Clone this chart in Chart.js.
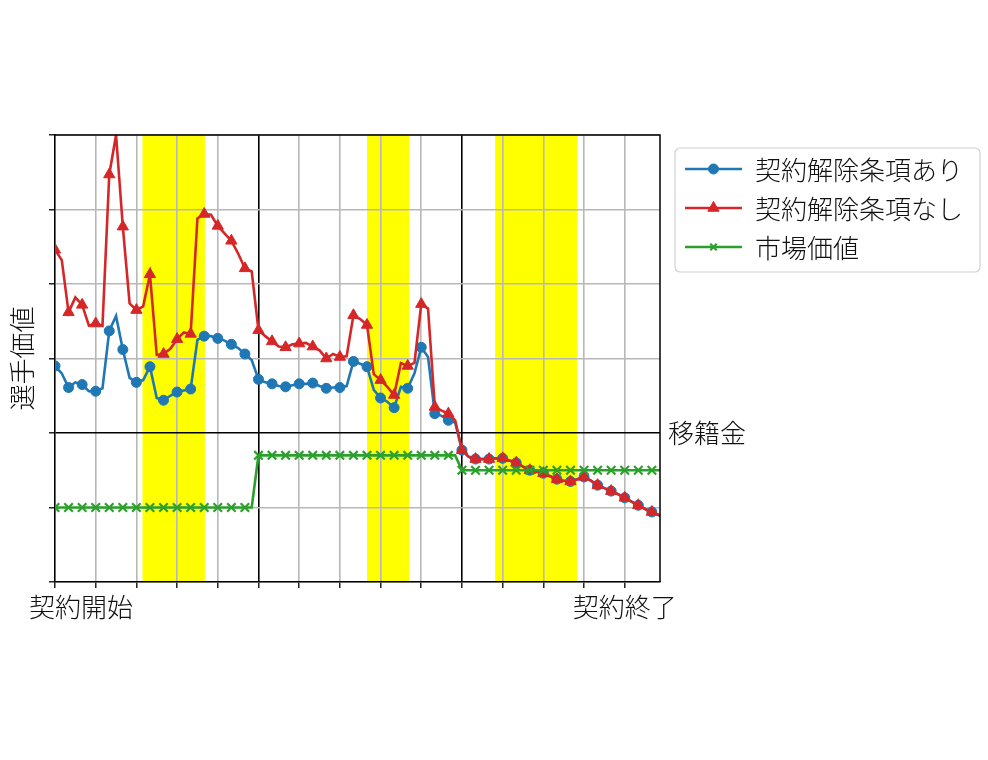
<!DOCTYPE html>
<html>
<head>
<meta charset="utf-8">
<script src="https://cdn.jsdelivr.net/npm/chart.js@4.4.1/dist/chart.umd.min.js"></script>
<style>
  html, body { margin: 0; padding: 0; background: #fff; }
  #wrap { width: 988px; height: 760px; }
</style>
</head>
<body>
<div id="wrap"><canvas id="chart" width="988" height="760"></canvas></div>
<script>
/* ── Data (x in contract steps, half-step resolution) ── */
const steps = [
  0, 0.5, 1, 1.5, 2, 2.5, 3, 3.5, 4, 4.5, 5, 5.5, 6, 6.5, 7, 7.5, 8, 8.5, 9, 9.5,
  10, 10.5, 11, 11.5, 12, 12.5, 13, 13.5, 14, 14.5, 15, 15.5, 16, 16.5, 17, 17.5, 18, 18.5, 19, 19.5,
  20, 20.5, 21, 21.5, 22, 22.5, 23, 23.5, 24, 24.5, 25, 25.5, 26, 26.5, 27, 27.5, 28, 28.5, 29, 29.5,
  30, 30.5, 31, 31.5, 32, 32.5, 33, 33.5, 34, 34.5, 35, 35.5, 36, 36.5, 37, 37.5, 38, 38.5, 39, 39.5,
  40, 40.5, 41, 41.5, 42, 42.5, 43, 43.5, 44, 44.5, 45
];

// 契約解除条項あり
const withClause = [
  2.90, 2.80, 2.61, 2.68, 2.65, 2.56, 2.56, 2.60, 3.37, 3.57, 3.12, 2.74, 2.68, 2.71, 2.89, 2.47, 2.44, 2.50, 2.55, 2.57,
  2.59, 3.25, 3.30, 3.30, 3.27, 3.24, 3.19, 3.14, 3.06, 2.98, 2.72, 2.68, 2.66, 2.63, 2.62, 2.64, 2.66, 2.66, 2.67, 2.63,
  2.60, 2.61, 2.61, 2.63, 2.96, 2.93, 2.89, 2.58, 2.47, 2.42, 2.34, 2.62, 2.60, 2.80, 3.15, 3.02, 2.26, 2.23, 2.17, 2.14,
  1.77, 1.68, 1.65, 1.65, 1.65, 1.66, 1.66, 1.63, 1.60, 1.55, 1.50, 1.48, 1.46, 1.42, 1.38, 1.36, 1.35, 1.38, 1.41, 1.36,
  1.30, 1.26, 1.22, 1.18, 1.13, 1.08, 1.03, 0.98, 0.94, 0.90, 0.85
];

// 契約解除条項なし
const withoutClause = [
  4.46, 4.32, 3.62, 3.82, 3.72, 3.44, 3.47, 3.44, 5.47, 6.00, 4.77, 3.74, 3.65, 3.70, 4.13, 3.05, 3.06, 3.13, 3.26, 3.35,
  3.33, 4.88, 4.94, 4.93, 4.78, 4.68, 4.58, 4.41, 4.21, 4.17, 3.38, 3.30, 3.23, 3.16, 3.15, 3.19, 3.20, 3.21, 3.16, 3.11,
  3.00, 3.06, 3.02, 3.03, 3.58, 3.53, 3.45, 2.79, 2.71, 2.62, 2.51, 2.94, 2.90, 2.94, 3.73, 3.67, 2.35, 2.30, 2.26, 2.17,
  1.77, 1.68, 1.65, 1.65, 1.65, 1.66, 1.66, 1.63, 1.60, 1.55, 1.50, 1.48, 1.46, 1.42, 1.38, 1.36, 1.35, 1.38, 1.41, 1.36,
  1.30, 1.26, 1.22, 1.18, 1.13, 1.08, 1.03, 0.98, 0.94, 0.90, 0.85
];

// 市場価値
const marketValue = [
  1.00, 1.00, 1.00, 1.00, 1.00, 1.00, 1.00, 1.00, 1.00, 1.00, 1.00, 1.00, 1.00, 1.00, 1.00, 1.00, 1.00, 1.00, 1.00, 1.00,
  1.00, 1.00, 1.00, 1.00, 1.00, 1.00, 1.00, 1.00, 1.00, 1.00, 1.70, 1.70, 1.70, 1.70, 1.70, 1.70, 1.70, 1.70, 1.70, 1.70,
  1.70, 1.70, 1.70, 1.70, 1.70, 1.70, 1.70, 1.70, 1.70, 1.70, 1.70, 1.70, 1.70, 1.70, 1.70, 1.70, 1.70, 1.70, 1.70, 1.70,
  1.50, 1.50, 1.50, 1.50, 1.50, 1.50, 1.50, 1.50, 1.50, 1.50, 1.50, 1.50, 1.50, 1.50, 1.50, 1.50, 1.50, 1.50, 1.50, 1.50,
  1.50, 1.50, 1.50, 1.50, 1.50, 1.50, 1.50, 1.50, 1.50, 1.50, 1.50
];

const seriesNames = ['契約解除条項あり', '契約解除条項なし', '市場価値'];

/* ── Axes: ticks, labels, highlighted periods ── */
const xGridTicks = [0, 3, 6, 9, 12, 15, 18, 21, 24, 27, 30, 33, 36, 39, 42];
const xBlackLines = [15, 30];
const xMax = 44.6;
const xTickLabelPos = [1.92, 42];
const xTickLabelText = ['契約開始', '契約終了'];
const yTicks = [0, 1, 2, 3, 4, 5, 6];
const transferFee = 2;
const transferFeeLabel = '移籍金';
const yTitle = '選手価値';
const bandStart = [6.45, 23.0, 32.45];
const bandEnd   = [11.05, 26.1, 38.5];

const FONT = '300 26px "Noto Sans CJK JP", "Noto Sans CJK SC", sans-serif';
const COLORS = ['#1f77b4', '#d62728', '#2ca02c'];
const STYLES = ['circle', 'triangle', 'crossRot'];
const RADII  = [5, 6.5, 6];
const MARK_BORDER = [1, 1, 2.2];

/* ── Marker only on whole steps ── */
const markOnWhole = r => ctx => (ctx.dataIndex % 2 === 0 ? r : 0);

/* ── Decorations plugin: background, bands, frame, texts, legend ── */
const decor = {
  id: 'decor',
  beforeDraw(chart) {
    const { ctx, chartArea: a, scales: { x } } = chart;
    ctx.save();
    ctx.fillStyle = '#ffffff';
    ctx.fillRect(0, 0, chart.width, chart.height);
    ctx.fillStyle = '#ffff00';
    for (let i = 0; i < bandStart.length; i++) {
      const x0 = x.getPixelForValue(bandStart[i]);
      const x1 = x.getPixelForValue(bandEnd[i]);
      ctx.fillRect(x0, a.top, x1 - x0, a.bottom - a.top);
    }
    ctx.restore();
  },
  afterDraw(chart) {
    const { ctx, chartArea: a, scales: { x, y } } = chart;
    ctx.save();
    // top + right spines
    ctx.strokeStyle = '#000';
    ctx.lineWidth = 1.5;
    ctx.beginPath();
    ctx.moveTo(a.left, a.top);
    ctx.lineTo(a.right, a.top);
    ctx.lineTo(a.right, a.bottom);
    ctx.stroke();

    ctx.fillStyle = '#111';
    ctx.font = FONT;
    ctx.textBaseline = 'middle';

    // x tick labels
    ctx.textAlign = 'center';
    xTickLabelPos.forEach((v, i) => {
      ctx.fillText(xTickLabelText[i], x.getPixelForValue(v), 607);
    });

    // transfer-fee label
    ctx.textAlign = 'left';
    ctx.fillText(transferFeeLabel, a.right + 8, y.getPixelForValue(transferFee));

    // y title
    ctx.save();
    ctx.translate(22, (a.top + a.bottom) / 2);
    ctx.rotate(-Math.PI / 2);
    ctx.textAlign = 'center';
    ctx.fillText(yTitle, 0, 0);
    ctx.restore();

    // legend
    const lx = 675, ly = 148, lw = 305, lh = 124, r = 5;
    ctx.beginPath();
    ctx.moveTo(lx + r, ly);
    ctx.arcTo(lx + lw, ly, lx + lw, ly + lh, r);
    ctx.arcTo(lx + lw, ly + lh, lx, ly + lh, r);
    ctx.arcTo(lx, ly + lh, lx, ly, r);
    ctx.arcTo(lx, ly, lx + lw, ly, r);
    ctx.closePath();
    ctx.fillStyle = 'rgba(255,255,255,0.85)';
    ctx.fill();
    ctx.strokeStyle = '#d0d0d0';
    ctx.lineWidth = 1.2;
    ctx.stroke();

    const rows = [169, 208, 247];
    seriesNames.forEach((name, i) => {
      const ry = rows[i];
      ctx.strokeStyle = COLORS[i];
      ctx.fillStyle = COLORS[i];
      ctx.lineWidth = 2.6;
      ctx.beginPath();
      ctx.moveTo(685, ry);
      ctx.lineTo(742, ry);
      ctx.stroke();
      ctx.lineWidth = MARK_BORDER[i];
      Chart.helpers.drawPoint(ctx, {
        pointStyle: STYLES[i], radius: RADII[i] - (i === 2 ? 1.5 : 0), rotation: 0, borderWidth: MARK_BORDER[i]
      }, 713.5, ry);
      ctx.fillStyle = '#111';
      ctx.textAlign = 'left';
      ctx.textBaseline = 'middle';
      ctx.fillText(name, 755, ry + 1);
    });
    ctx.restore();
  }
};

/* ── Build chart ── */
const datasets = [withClause, withoutClause, marketValue].map((vals, i) => ({
  label: seriesNames[i],
  data: vals,
  borderColor: COLORS[i],
  backgroundColor: COLORS[i],
  borderWidth: 2.6,
  tension: 0,
  fill: false,
  pointStyle: STYLES[i],
  pointRadius: markOnWhole(RADII[i]),
  pointHoverRadius: 0,
  pointBorderWidth: MARK_BORDER[i],
  order: 3 - i,
}));

new Chart(document.getElementById('chart'), {
  type: 'line',
  data: { labels: steps, datasets },
  options: {
    responsive: false,
    animation: false,
    layout: { padding: { top: 135, right: 328, left: 0, bottom: 0 } },
    plugins: { legend: { display: false }, tooltip: { enabled: false } },
    scales: {
      x: {
        type: 'linear',
        min: 0, max: xMax,
        afterFit: s => { s.height = 178; },
        afterBuildTicks: s => { s.ticks = xGridTicks.map(v => ({ value: v })); },
        ticks: { display: false },
        grid: {
          color: c => (xBlackLines.includes(c.tick && c.tick.value) ? '#000' : '#b8b8b8'),
          lineWidth: 1.6,
          drawTicks: true,
          tickLength: 6,
          tickColor: '#000',
          tickWidth: 1.3,
        },
        border: { display: true, color: '#000', width: 1.5 },
      },
      y: {
        min: 0, max: 6,
        afterFit: s => { s.width = 55; },
        afterBuildTicks: s => { s.ticks = yTicks.map(v => ({ value: v })); },
        ticks: { display: false },
        grid: {
          color: c => (c.tick && c.tick.value === transferFee ? '#000' : '#b8b8b8'),
          lineWidth: 1.6,
          drawTicks: true,
          tickLength: 6,
          tickColor: '#000',
          tickWidth: 1.3,
        },
        border: { display: true, color: '#000', width: 1.5 },
      }
    }
  },
  plugins: [decor]
});
</script>
</body>
</html>
